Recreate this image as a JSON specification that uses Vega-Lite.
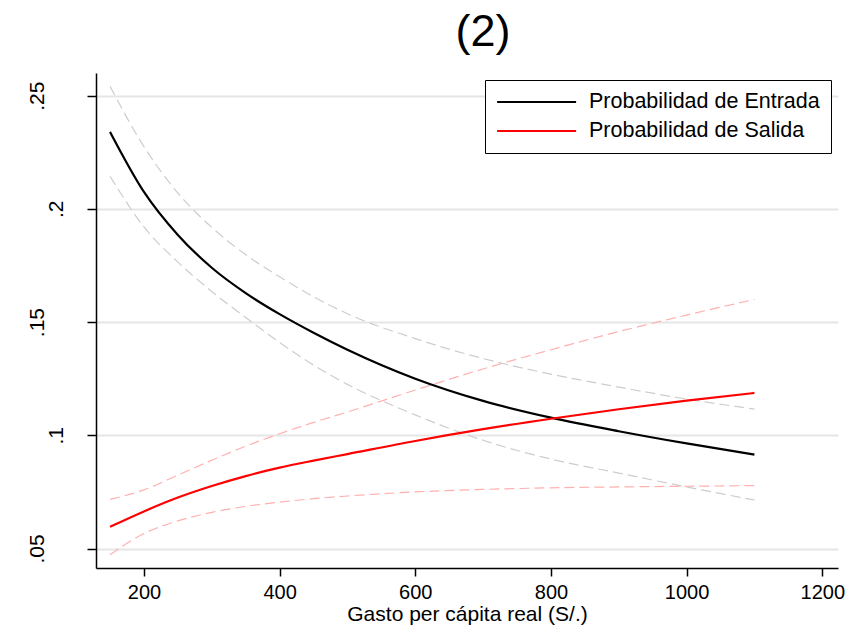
{
  "$schema": "https://vega.github.io/schema/vega-lite/v6.json",
  "width": 742,
  "height": 495,
  "autosize": {"type": "none"},
  "padding": {"left": 96, "top": 73, "right": 27, "bottom": 73},
  "background": "white",
  "title": {"text": "(2)", "fontSize": 45, "font": "Liberation Sans", "fontWeight": "normal", "color": "black", "anchor": "middle", "frame": "group", "baseline": "alphabetic", "offset": 28, "dx": 16, "dy": 46},
  "data": {"values": [
    {"gasto":150,"serie":"Probabilidad de Entrada","tipo":"est","p":0.2340},
    {"gasto":200,"serie":"Probabilidad de Entrada","tipo":"est","p":0.2075},
    {"gasto":250,"serie":"Probabilidad de Entrada","tipo":"est","p":0.1885},
    {"gasto":300,"serie":"Probabilidad de Entrada","tipo":"est","p":0.1740},
    {"gasto":350,"serie":"Probabilidad de Entrada","tipo":"est","p":0.1628},
    {"gasto":400,"serie":"Probabilidad de Entrada","tipo":"est","p":0.1535},
    {"gasto":450,"serie":"Probabilidad de Entrada","tipo":"est","p":0.1453},
    {"gasto":500,"serie":"Probabilidad de Entrada","tipo":"est","p":0.1378},
    {"gasto":600,"serie":"Probabilidad de Entrada","tipo":"est","p":0.1250},
    {"gasto":700,"serie":"Probabilidad de Entrada","tipo":"est","p":0.1152},
    {"gasto":800,"serie":"Probabilidad de Entrada","tipo":"est","p":0.1078},
    {"gasto":900,"serie":"Probabilidad de Entrada","tipo":"est","p":0.1018},
    {"gasto":1000,"serie":"Probabilidad de Entrada","tipo":"est","p":0.0964},
    {"gasto":1100,"serie":"Probabilidad de Entrada","tipo":"est","p":0.0915},
    {"gasto":150,"serie":"Probabilidad de Entrada","tipo":"hi","p":0.2541},
    {"gasto":200,"serie":"Probabilidad de Entrada","tipo":"hi","p":0.2275},
    {"gasto":250,"serie":"Probabilidad de Entrada","tipo":"hi","p":0.2070},
    {"gasto":300,"serie":"Probabilidad de Entrada","tipo":"hi","p":0.1918},
    {"gasto":350,"serie":"Probabilidad de Entrada","tipo":"hi","p":0.1798},
    {"gasto":400,"serie":"Probabilidad de Entrada","tipo":"hi","p":0.1700},
    {"gasto":450,"serie":"Probabilidad de Entrada","tipo":"hi","p":0.1612},
    {"gasto":500,"serie":"Probabilidad de Entrada","tipo":"hi","p":0.1537},
    {"gasto":600,"serie":"Probabilidad de Entrada","tipo":"hi","p":0.1427},
    {"gasto":700,"serie":"Probabilidad de Entrada","tipo":"hi","p":0.1339},
    {"gasto":800,"serie":"Probabilidad de Entrada","tipo":"hi","p":0.1270},
    {"gasto":900,"serie":"Probabilidad de Entrada","tipo":"hi","p":0.1213},
    {"gasto":1000,"serie":"Probabilidad de Entrada","tipo":"hi","p":0.1160},
    {"gasto":1100,"serie":"Probabilidad de Entrada","tipo":"hi","p":0.1116},
    {"gasto":150,"serie":"Probabilidad de Entrada","tipo":"lo","p":0.2144},
    {"gasto":200,"serie":"Probabilidad de Entrada","tipo":"lo","p":0.1920},
    {"gasto":250,"serie":"Probabilidad de Entrada","tipo":"lo","p":0.1765},
    {"gasto":300,"serie":"Probabilidad de Entrada","tipo":"lo","p":0.1635},
    {"gasto":350,"serie":"Probabilidad de Entrada","tipo":"lo","p":0.1520},
    {"gasto":400,"serie":"Probabilidad de Entrada","tipo":"lo","p":0.1410},
    {"gasto":450,"serie":"Probabilidad de Entrada","tipo":"lo","p":0.1310},
    {"gasto":500,"serie":"Probabilidad de Entrada","tipo":"lo","p":0.1225},
    {"gasto":600,"serie":"Probabilidad de Entrada","tipo":"lo","p":0.1090},
    {"gasto":700,"serie":"Probabilidad de Entrada","tipo":"lo","p":0.0978},
    {"gasto":800,"serie":"Probabilidad de Entrada","tipo":"lo","p":0.0895},
    {"gasto":900,"serie":"Probabilidad de Entrada","tipo":"lo","p":0.0833},
    {"gasto":1000,"serie":"Probabilidad de Entrada","tipo":"lo","p":0.0772},
    {"gasto":1100,"serie":"Probabilidad de Entrada","tipo":"lo","p":0.0714},
    {"gasto":150,"serie":"Probabilidad de Salida","tipo":"est","p":0.0596},
    {"gasto":200,"serie":"Probabilidad de Salida","tipo":"est","p":0.0664},
    {"gasto":250,"serie":"Probabilidad de Salida","tipo":"est","p":0.0725},
    {"gasto":300,"serie":"Probabilidad de Salida","tipo":"est","p":0.0776},
    {"gasto":350,"serie":"Probabilidad de Salida","tipo":"est","p":0.0820},
    {"gasto":400,"serie":"Probabilidad de Salida","tipo":"est","p":0.0857},
    {"gasto":450,"serie":"Probabilidad de Salida","tipo":"est","p":0.0888},
    {"gasto":500,"serie":"Probabilidad de Salida","tipo":"est","p":0.0917},
    {"gasto":600,"serie":"Probabilidad de Salida","tipo":"est","p":0.0975},
    {"gasto":700,"serie":"Probabilidad de Salida","tipo":"est","p":0.1027},
    {"gasto":800,"serie":"Probabilidad de Salida","tipo":"est","p":0.1073},
    {"gasto":900,"serie":"Probabilidad de Salida","tipo":"est","p":0.1115},
    {"gasto":1000,"serie":"Probabilidad de Salida","tipo":"est","p":0.1153},
    {"gasto":1100,"serie":"Probabilidad de Salida","tipo":"est","p":0.1187},
    {"gasto":150,"serie":"Probabilidad de Salida","tipo":"hi","p":0.0717},
    {"gasto":200,"serie":"Probabilidad de Salida","tipo":"hi","p":0.0759},
    {"gasto":250,"serie":"Probabilidad de Salida","tipo":"hi","p":0.0824},
    {"gasto":300,"serie":"Probabilidad de Salida","tipo":"hi","p":0.0890},
    {"gasto":350,"serie":"Probabilidad de Salida","tipo":"hi","p":0.0952},
    {"gasto":400,"serie":"Probabilidad de Salida","tipo":"hi","p":0.1007},
    {"gasto":450,"serie":"Probabilidad de Salida","tipo":"hi","p":0.1057},
    {"gasto":500,"serie":"Probabilidad de Salida","tipo":"hi","p":0.1103},
    {"gasto":600,"serie":"Probabilidad de Salida","tipo":"hi","p":0.1200},
    {"gasto":700,"serie":"Probabilidad de Salida","tipo":"hi","p":0.1293},
    {"gasto":800,"serie":"Probabilidad de Salida","tipo":"hi","p":0.1378},
    {"gasto":900,"serie":"Probabilidad de Salida","tipo":"hi","p":0.1458},
    {"gasto":1000,"serie":"Probabilidad de Salida","tipo":"hi","p":0.1531},
    {"gasto":1100,"serie":"Probabilidad de Salida","tipo":"hi","p":0.1600},
    {"gasto":150,"serie":"Probabilidad de Salida","tipo":"lo","p":0.0473},
    {"gasto":200,"serie":"Probabilidad de Salida","tipo":"lo","p":0.0566},
    {"gasto":250,"serie":"Probabilidad de Salida","tipo":"lo","p":0.0622},
    {"gasto":300,"serie":"Probabilidad de Salida","tipo":"lo","p":0.0660},
    {"gasto":350,"serie":"Probabilidad de Salida","tipo":"lo","p":0.0686},
    {"gasto":400,"serie":"Probabilidad de Salida","tipo":"lo","p":0.0705},
    {"gasto":450,"serie":"Probabilidad de Salida","tipo":"lo","p":0.0720},
    {"gasto":500,"serie":"Probabilidad de Salida","tipo":"lo","p":0.0732},
    {"gasto":600,"serie":"Probabilidad de Salida","tipo":"lo","p":0.0750},
    {"gasto":700,"serie":"Probabilidad de Salida","tipo":"lo","p":0.0761},
    {"gasto":800,"serie":"Probabilidad de Salida","tipo":"lo","p":0.0768},
    {"gasto":900,"serie":"Probabilidad de Salida","tipo":"lo","p":0.0772},
    {"gasto":1000,"serie":"Probabilidad de Salida","tipo":"lo","p":0.0775},
    {"gasto":1100,"serie":"Probabilidad de Salida","tipo":"lo","p":0.0778}
  ]},
  "encoding": {
    "x": {
      "field": "gasto", "type": "quantitative",
      "scale": {"domain": [129.3, 1223.2], "nice": false, "zero": false},
      "axis": {
        "values": [200, 400, 600, 800, 1000, 1200], "format": "d",
        "title": "Gasto per cápita real (S/.)",
        "grid": false, "domainColor": "black", "domainWidth": 1.5,
        "tickColor": "black", "tickSize": 8, "tickWidth": 1.5,
        "labelFontSize": 20, "labelPadding": 6, "labelColor": "black",
        "titleFontSize": 21, "titleFontWeight": "normal", "titleColor": "black", "titlePadding": 1
      }
    },
    "y": {
      "field": "p", "type": "quantitative",
      "scale": {"domain": [0.0414, 0.26], "nice": false, "zero": false},
      "axis": {
        "values": [0.05, 0.1, 0.15, 0.2, 0.25], "format": ".2~f",
        "labelExpr": "replace(datum.label, '0.', '.')",
        "title": null,
        "grid": true, "gridColor": "#e6e6e6", "gridWidth": 2,
        "domainColor": "black", "domainWidth": 1.5,
        "tickColor": "black", "tickSize": 9, "tickWidth": 1.5,
        "labelAngle": 270, "labelAlign": "center", "labelBaseline": "alphabetic",
        "labelFontSize": 21, "labelColor": "black",
        "labelPadding": {"condition": {"test": "datum.value == 0.1 || datum.value == 0.2", "value": 25}, "value": 44}
      }
    }
  },
  "layer": [
    {
      "transform": [{"filter": "datum.tipo != 'est'"}],
      "mark": {"type": "line", "strokeWidth": 1.2, "strokeDash": [10, 5], "interpolate": "monotone"},
      "encoding": {
        "color": {"field": "serie", "type": "nominal",
          "scale": {"domain": ["Probabilidad de Entrada", "Probabilidad de Salida"], "range": ["#cdcdcd", "#ffb0b0"]},
          "legend": null},
        "detail": {"field": "tipo"}
      }
    },
    {
      "transform": [{"filter": "datum.tipo == 'est'"}],
      "mark": {"type": "line", "strokeWidth": 2.2, "interpolate": "monotone"},
      "encoding": {
        "color": {"field": "serie", "type": "nominal",
          "scale": {"domain": ["Probabilidad de Entrada", "Probabilidad de Salida"], "range": ["black", "#ff0000"]},
          "legend": {
            "orient": "top-right", "offset": 7, "title": null,
            "symbolType": "M-1,0H7", "symbolSize": 390, "symbolStrokeWidth": 2,
            "labelFontSize": 21.5, "labelOffset": 71, "labelColor": "black", "labelLimit": 400,
            "strokeColor": "black", "fillColor": "white", "padding": 11, "rowPadding": 7
          }
        }
      }
    }
  ],
  "resolve": {"scale": {"color": "independent"}},
  "config": {
    "font": "Liberation Sans",
    "view": {"stroke": null},
    "axis": {"labelFont": "Liberation Sans", "titleFont": "Liberation Sans"},
    "legend": {"labelFont": "Liberation Sans"}
  }
}
